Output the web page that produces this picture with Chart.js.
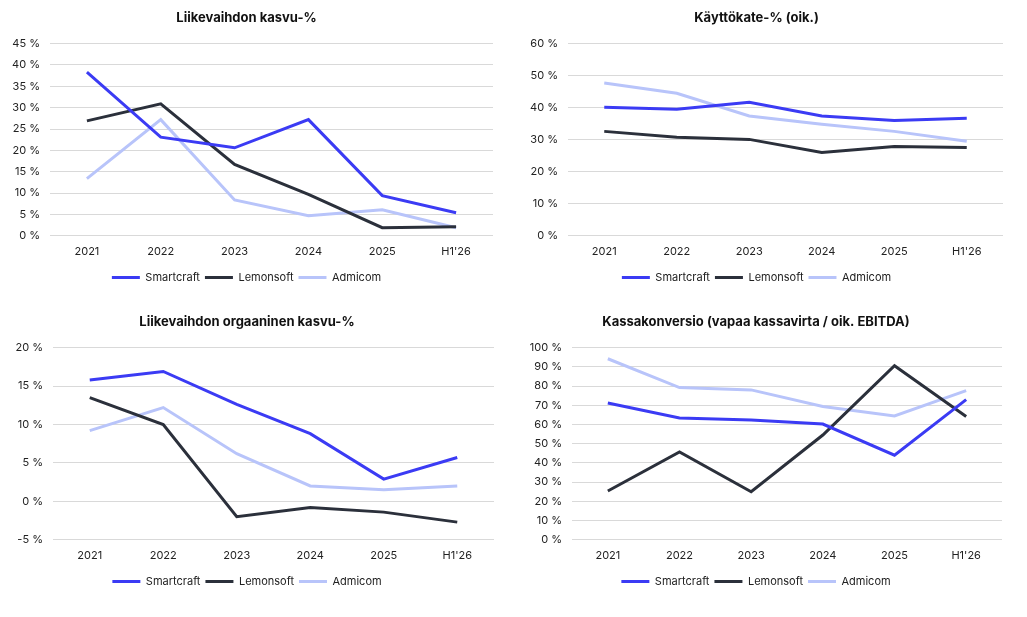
<!DOCTYPE html>
<html>
<head>
<meta charset="utf-8">
<script src="https://cdn.jsdelivr.net/npm/chart.js@4/dist/chart.umd.min.js"></script>
<style>
  body { margin: 0; background: #fff; width: 1027px; height: 617px; position: relative; overflow: hidden; }
  .box { position: absolute; }
</style>
</head>
<body>
<div class="box" style="left:0;top:0;width:510px;height:293px"><canvas id="c1"></canvas></div>
<div class="box" style="left:510px;top:0;width:517px;height:293px"><canvas id="c2"></canvas></div>
<div class="box" style="left:0;top:304px;width:510px;height:293px"><canvas id="c3"></canvas></div>
<div class="box" style="left:510px;top:304px;width:517px;height:293px"><canvas id="c4"></canvas></div>
<script>
const periods = ['2021', '2022', '2023', '2024', '2025', "H1'26"];
const companies = ['Smartcraft', 'Lemonsoft', 'Admicom'];
const colors = ['#3b3bf4', '#2b303b', '#b8c4fa'];

// Liikevaihdon kasvu-%
const growthSmartcraft = [38.3, 23.1, 20.6, 27.2, 9.4, 5.4];
const growthLemonsoft = [26.9, 30.9, 16.7, 9.7, 1.9, 2.1];
const growthAdmicom = [13.4, 27.2, 8.4, 4.7, 6.1, 1.9];

// Käyttökate-% (oik.)
const ebitdaSmartcraft = [40.1, 39.5, 41.7, 37.4, 36.0, 36.7];
const ebitdaLemonsoft = [32.6, 30.8, 30.1, 26.0, 27.9, 27.6];
const ebitdaAdmicom = [47.7, 44.5, 37.4, 34.8, 32.6, 29.5];

// Liikevaihdon orgaaninen kasvu-%
const organicSmartcraft = [15.8, 16.9, 12.6, 8.8, 2.9, 5.7];
const organicLemonsoft = [13.5, 10.0, -2.0, -0.8, -1.4, -2.7];
const organicAdmicom = [9.2, 12.2, 6.2, 2.0, 1.5, 2.0];

// Kassakonversio
const cashSmartcraft = [71.2, 63.4, 62.3, 60.2, 44.0, 72.9];
const cashLemonsoft = [25.4, 45.7, 25.0, 54.5, 90.6, 64.2];
const cashAdmicom = [94.2, 79.2, 78.0, 69.4, 64.4, 77.6];

const font = "Inter, 'Liberation Sans', sans-serif";

function makeChart(id, title, series, yMin, yMax, step, yWidth, padRight) {
    const ctx = document.getElementById(id).getContext('2d');
    return new Chart(ctx, {
        type: 'line',
        data: {
            labels: periods,
            datasets: series.map((values, i) => ({
                label: companies[i],
                data: values,
                borderColor: colors[i],
                backgroundColor: colors[i],
                borderWidth: 3,
                pointRadius: 0,
                tension: 0
            }))
        },
        options: {
            responsive: true,
            maintainAspectRatio: false,
            animation: false,
            layout: { padding: { top: 8, right: padRight, left: 0, bottom: 0 } },
            scales: {
                x: {
                    offset: true,
                    grid: { display: false, drawTicks: false },
                    border: { display: false },
                    ticks: { color: '#222', font: { family: font, size: 11 }, padding: 9, maxRotation: 0 }
                },
                y: {
                    min: yMin,
                    max: yMax,
                    afterFit: scale => { scale.width = yWidth; },
                    grid: { color: '#d9d9d9', lineWidth: 1, drawTicks: false },
                    border: { display: false },
                    ticks: {
                        stepSize: step,
                        padding: 10,
                        color: '#222',
                        font: { family: font, size: 11 },
                        callback: v => v + ' %'
                    }
                }
            },
            plugins: {
                title: {
                    display: true,
                    text: title,
                    color: '#111',
                    font: { family: font, size: 13, weight: 'bold' },
                    padding: { top: 2, bottom: 18 }
                },
                legend: {
                    position: 'bottom',
                    labels: {
                        color: '#222',
                        font: { family: font, size: 11 },
                        boxWidth: 28,
                        boxHeight: 3,
                        padding: 5,
                        generateLabels: chart => Chart.defaults.plugins.legend.labels.generateLabels(chart)
                            .map(item => Object.assign(item, { lineWidth: 0 }))
                    }
                },
                tooltip: { enabled: false }
            }
        }
    });
}

makeChart('c1', 'Liikevaihdon kasvu-%', [growthSmartcraft, growthLemonsoft, growthAdmicom], 0, 45, 5, 50, 17);
makeChart('c2', 'Käyttökate-% (oik.)', [ebitdaSmartcraft, ebitdaLemonsoft, ebitdaAdmicom], 0, 60, 10, 58, 24);
makeChart('c3', 'Liikevaihdon orgaaninen kasvu-%', [organicSmartcraft, organicLemonsoft, organicAdmicom], -5, 20, 5, 53, 16);
makeChart('c4', 'Kassakonversio (vapaa kassavirta / oik. EBITDA)', [cashSmartcraft, cashLemonsoft, cashAdmicom], 0, 100, 10, 62, 25);
</script>
</body>
</html>
